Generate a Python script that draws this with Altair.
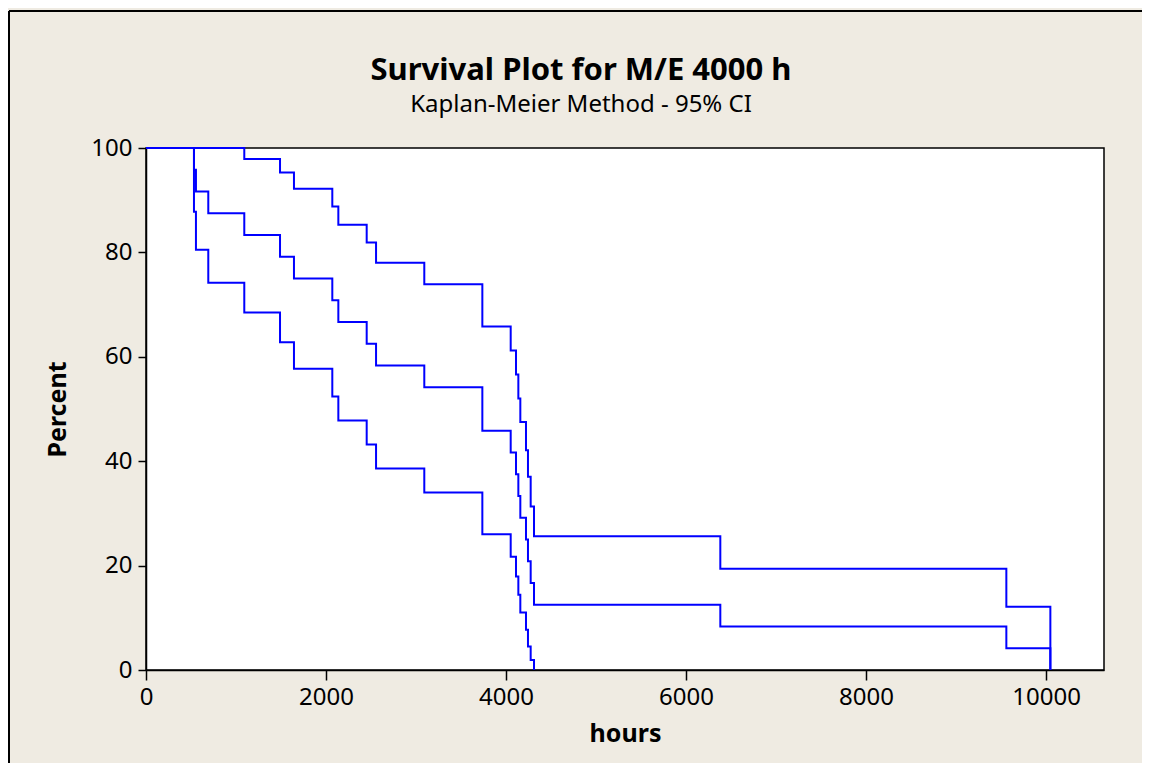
import altair as alt
import pandas as pd

# Event times (hours) read from the step positions
times = [0, 533, 555, 692, 1092, 1489, 1644, 2070, 2137, 2452, 2556, 3092,
         3737, 4052, 4111, 4137, 4159, 4222, 4244, 4274, 4311, 6381, 9559, 10048]

# Kaplan-Meier estimate (percent), value from each time onward
km = [100, 95.83, 91.67, 87.5, 83.33, 79.17, 75.0, 70.83, 66.67, 62.5, 58.33, 54.17,
      45.83, 41.67, 37.5, 33.33, 29.17, 25.0, 20.83, 16.67, 12.5, 8.33, 4.17, 0]

# Upper 95% confidence bound
upper = [100, 100, 100, 100, 97.9, 95.3, 92.2, 88.8, 85.3, 81.9, 78.0, 73.9,
         65.8, 61.2, 56.6, 52.0, 47.5, 42.1, 37.0, 31.3, 25.6, 19.4, 12.1, 0]

# Lower 95% confidence bound (reaches 0 at 4311 h)
lower_times = [0, 533, 555, 692, 1092, 1489, 1644, 2070, 2137, 2452, 2556, 3092,
               3737, 4052, 4111, 4137, 4159, 4222, 4244, 4274, 4311]
lower = [100, 87.8, 80.5, 74.2, 68.5, 62.8, 57.7, 52.4, 47.8, 43.2, 38.6, 34.0,
         26.0, 21.7, 17.9, 14.4, 11.0, 7.7, 4.5, 1.9, 0]

x_ticks = [0, 2000, 4000, 6000, 8000, 10000]
y_ticks = [0, 20, 40, 60, 80, 100]

rows = []
for t, v in zip(times, km):
    rows.append({"hours": t, "Percent": v, "curve": "KM"})
for t, v in zip(times, upper):
    rows.append({"hours": t, "Percent": v, "curve": "Upper"})
for t, v in zip(lower_times, lower):
    rows.append({"hours": t, "Percent": v, "curve": "Lower"})
df = pd.DataFrame(rows)

FONT = "Noto Sans"

# Outer frame of the graph window (only its left and top edges are in view)
one = pd.DataFrame({"f": [0]})
frame_left = alt.Chart(one).mark_rule(color="black", strokeWidth=2).encode(
    x=alt.value(-137), y=alt.value(-137), y2=alt.value(615),
)
frame_top = alt.Chart(one).mark_rule(color="black", strokeWidth=2).encode(
    x=alt.value(-137), x2=alt.value(996), y=alt.value(-137),
)

lines = alt.Chart(df).mark_line(
    interpolate="step-after", color="#0000FF", strokeWidth=2
).encode(
    x=alt.X("hours:Q", title="hours",
            scale=alt.Scale(domain=[0, 10644], nice=False, zero=False),
            axis=alt.Axis(values=x_ticks, format="d", grid=False, tickSize=10,
                          labelPadding=5, titlePadding=12, labelFlush=False)),
    y=alt.Y("Percent:Q", title="Percent",
            scale=alt.Scale(domain=[0, 100], nice=False),
            axis=alt.Axis(values=y_ticks, format="d", grid=False, tickSize=8,
                          labelPadding=6, titlePadding=20)),
    detail="curve:N",
    order="hours:Q",
)

chart = alt.layer(frame_left, frame_top, lines).properties(
    width=958,
    height=522,
    title=alt.TitleParams(
        text="Survival Plot for M/E 4000 h",
        subtitle="Kaplan-Meier Method - 95% CI",
        anchor="middle", frame="group", dx=-44,
        font=FONT, fontSize=31, fontWeight="bold", color="black",
        subtitleFont=FONT, subtitleFontSize=24, subtitleColor="black",
        subtitlePadding=6, offset=-108,
    ),
    autosize=alt.AutoSizeParams(type="none"),
    padding={"left": 138, "top": 140, "right": 38, "bottom": 93},
    background="#EFEBE2",
).configure_view(
    fill="white", stroke="black", strokeWidth=1.5
).configure_axis(
    domainColor="black", domainWidth=1.5, tickColor="black", tickWidth=1.5,
    labelFont=FONT, labelFontSize=24, labelColor="black",
    titleFont=FONT, titleFontSize=25, titleFontWeight="bold", titleColor="black",
)

chart.save("out.html", embed_options={"renderer": "svg", "actions": False})
